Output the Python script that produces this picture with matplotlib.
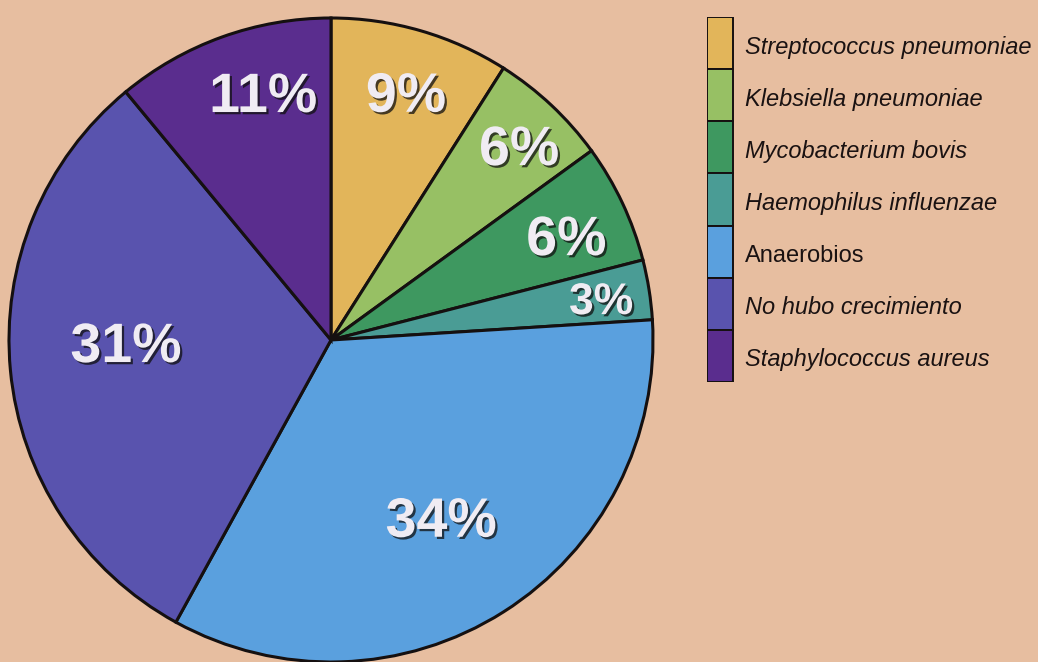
import numpy as np
import matplotlib
matplotlib.use('Agg')
import matplotlib.pyplot as plt
import matplotlib.patheffects as pe
import matplotlib.transforms as mtransforms

categories = ['Streptococcus pneumoniae', 'Klebsiella pneumoniae', 'Mycobacterium bovis',
              'Haemophilus influenzae', 'Anaerobios', 'No hubo crecimiento',
              'Staphylococcus aureus']
percentages = [9, 6, 6, 3, 34, 31, 11]
italic_flags = [True, True, True, True, False, True, True]

colors = ['#E2B55A', '#97C064', '#3E9860', '#4A9C95', '#5AA0DE', '#5953AE', '#5A2D8E']
label_radius = [0.805, 0.841, 0.80, 0.849, 0.647, 0.637, 0.798]
label_shift = [-0.6, -0.8, -1.2, -0.2, -0.5, -4.8, -4.5]
label_size = [40, 40, 40, 32, 40, 40, 40]
bg = '#E7BEA0'

plt.rcParams['font.family'] = ['Liberation Sans', 'DejaVu Sans']

W, H = 1038, 662
fig = plt.figure(figsize=(W / 100, H / 100), dpi=100, facecolor=bg)

# pie: centre at (331, 340) px from top-left, radius 322 px
cx, cy, R = 331, 340, 322
ax = fig.add_axes([(cx - R) / W, (H - cy - R) / H, 2 * R / W, 2 * R / H])
ax.set_facecolor(bg)

wedges, _ = ax.pie(percentages, colors=colors, startangle=90, counterclock=False,
                   radius=1, wedgeprops=dict(edgecolor='#151010', linewidth=2.2))
for w in wedges:
    w.set_clip_on(False)
ax.set_xlim(-1, 1)
ax.set_ylim(-1, 1)
ax.axis('off')

cum = np.cumsum([0] + percentages)
for i, p in enumerate(percentages):
    mid = 90 - 3.6 * (cum[i] + p / 2) + label_shift[i]
    r = label_radius[i]
    x, y = r * np.cos(np.radians(mid)), r * np.sin(np.radians(mid))
    fs = label_size[i]
    tr = mtransforms.offset_copy(ax.transData, fig=fig, x=0, y=-0.358 * fs, units='points')
    ax.text(x, y, f'{p}%', ha='center', va='baseline', fontsize=fs, fontweight='bold',
            color='#F0ECF3', transform=tr,
            path_effects=[pe.withSimplePatchShadow(offset=(1.6, -1.6), shadow_rgbFace='#101010', alpha=0.75)])

# legend: stacked colour boxes with labels
lx0, ly0, ly1 = 707, 17, 382
box_h = (ly1 - ly0) / len(categories)
lax = fig.add_axes([lx0 / W, (H - ly1) / H, (W - lx0) / W, (ly1 - ly0) / H])
lax.set_xlim(0, W - lx0)
lax.set_ylim(len(categories) - 0.5, -0.5)
lax.axis('off')
lax.barh(range(len(categories)), 26, height=1, left=0, color=colors,
         edgecolor='#151010', linewidth=1.4)
for i, name in enumerate(categories):
    lax.text(38, i + 10.5 / box_h, name, ha='left', va='baseline', fontsize=17, color='#1A1212',
             fontstyle='italic' if italic_flags[i] else 'normal')

fig.savefig('out.png', dpi=100, facecolor=bg)
